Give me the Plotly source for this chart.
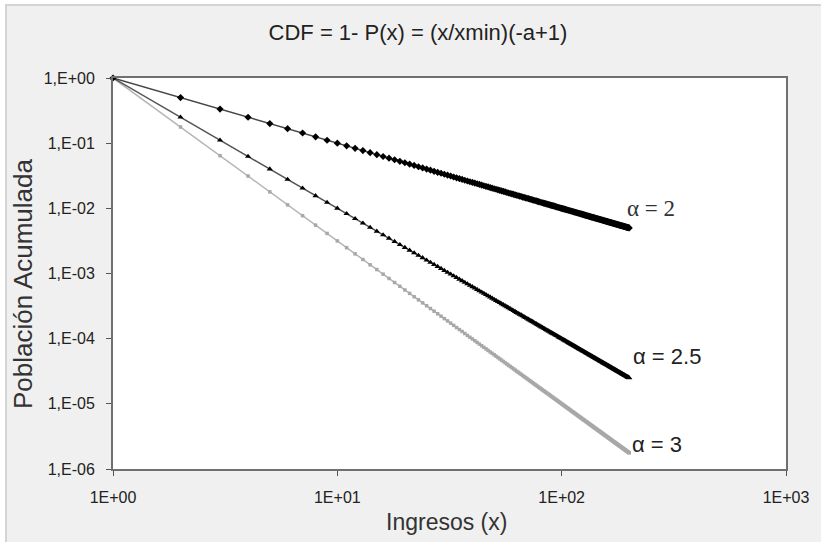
import plotly.graph_objects as go

# Ingresos (x): 1 .. 200
x_vals = [
    1, 2, 3, 4, 5, 6, 7, 8, 9, 10, 11, 12, 13, 14, 15, 16, 17, 18, 19, 20,
    21, 22, 23, 24, 25, 26, 27, 28, 29, 30, 31, 32, 33, 34, 35, 36, 37, 38, 39, 40,
    41, 42, 43, 44, 45, 46, 47, 48, 49, 50, 51, 52, 53, 54, 55, 56, 57, 58, 59, 60,
    61, 62, 63, 64, 65, 66, 67, 68, 69, 70, 71, 72, 73, 74, 75, 76, 77, 78, 79, 80,
    81, 82, 83, 84, 85, 86, 87, 88, 89, 90, 91, 92, 93, 94, 95, 96, 97, 98, 99, 100,
    101, 102, 103, 104, 105, 106, 107, 108, 109, 110, 111, 112, 113, 114, 115, 116, 117, 118, 119, 120,
    121, 122, 123, 124, 125, 126, 127, 128, 129, 130, 131, 132, 133, 134, 135, 136, 137, 138, 139, 140,
    141, 142, 143, 144, 145, 146, 147, 148, 149, 150, 151, 152, 153, 154, 155, 156, 157, 158, 159, 160,
    161, 162, 163, 164, 165, 166, 167, 168, 169, 170, 171, 172, 173, 174, 175, 176, 177, 178, 179, 180,
    181, 182, 183, 184, 185, 186, 187, 188, 189, 190, 191, 192, 193, 194, 195, 196, 197, 198, 199, 200,
]

# alpha = 2
cdf_a2 = [
    1, 0.5, 0.333, 0.25, 0.2, 0.167, 0.143, 0.125, 0.111, 0.1,
    0.0909, 0.0833, 0.0769, 0.0714, 0.0667, 0.0625, 0.0588, 0.0556, 0.0526, 0.05,
    0.0476, 0.0455, 0.0435, 0.0417, 0.04, 0.0385, 0.037, 0.0357, 0.0345, 0.0333,
    0.0323, 0.0313, 0.0303, 0.0294, 0.0286, 0.0278, 0.027, 0.0263, 0.0256, 0.025,
    0.0244, 0.0238, 0.0233, 0.0227, 0.0222, 0.0217, 0.0213, 0.0208, 0.0204, 0.02,
    0.0196, 0.0192, 0.0189, 0.0185, 0.0182, 0.0179, 0.0175, 0.0172, 0.0169, 0.0167,
    0.0164, 0.0161, 0.0159, 0.0156, 0.0154, 0.0152, 0.0149, 0.0147, 0.0145, 0.0143,
    0.0141, 0.0139, 0.0137, 0.0135, 0.0133, 0.0132, 0.013, 0.0128, 0.0127, 0.0125,
    0.0123, 0.0122, 0.012, 0.0119, 0.0118, 0.0116, 0.0115, 0.0114, 0.0112, 0.0111,
    0.011, 0.0109, 0.0108, 0.0106, 0.0105, 0.0104, 0.0103, 0.0102, 0.0101, 0.01,
    0.0099, 0.0098, 0.0097, 0.00962, 0.00952, 0.00943, 0.00935, 0.00926, 0.00917, 0.00909,
    0.00901, 0.00893, 0.00885, 0.00877, 0.0087, 0.00862, 0.00855, 0.00847, 0.0084, 0.00833,
    0.00826, 0.0082, 0.00813, 0.00806, 0.008, 0.00794, 0.00787, 0.00781, 0.00775, 0.00769,
    0.00763, 0.00758, 0.00752, 0.00746, 0.00741, 0.00735, 0.0073, 0.00725, 0.00719, 0.00714,
    0.00709, 0.00704, 0.00699, 0.00694, 0.0069, 0.00685, 0.0068, 0.00676, 0.00671, 0.00667,
    0.00662, 0.00658, 0.00654, 0.00649, 0.00645, 0.00641, 0.00637, 0.00633, 0.00629, 0.00625,
    0.00621, 0.00617, 0.00613, 0.0061, 0.00606, 0.00602, 0.00599, 0.00595, 0.00592, 0.00588,
    0.00585, 0.00581, 0.00578, 0.00575, 0.00571, 0.00568, 0.00565, 0.00562, 0.00559, 0.00556,
    0.00552, 0.00549, 0.00546, 0.00543, 0.00541, 0.00538, 0.00535, 0.00532, 0.00529, 0.00526,
    0.00524, 0.00521, 0.00518, 0.00515, 0.00513, 0.0051, 0.00508, 0.00505, 0.00503, 0.005,
]

# alpha = 2.5
cdf_a25 = [
    1, 0.25, 0.111, 0.0625, 0.04, 0.0278, 0.0204, 0.0156, 0.0123, 0.01,
    0.00826, 0.00694, 0.00592, 0.0051, 0.00444, 0.00391, 0.00346, 0.00309, 0.00277, 0.0025,
    0.00227, 0.00207, 0.00189, 0.00174, 0.0016, 0.00148, 0.00137, 0.00128, 0.00119, 0.00111,
    1.04e-3, 9.77e-4, 9.18e-4, 8.65e-4, 8.16e-4, 7.72e-4, 7.30e-4, 6.93e-4, 6.57e-4, 6.25e-4,
    5.95e-4, 5.67e-4, 5.41e-4, 5.17e-4, 4.94e-4, 4.73e-4, 4.53e-4, 4.34e-4, 4.16e-4, 4.0e-4,
    3.84e-4, 3.70e-4, 3.56e-4, 3.43e-4, 3.31e-4, 3.19e-4, 3.08e-4, 2.97e-4, 2.87e-4, 2.78e-4,
    2.69e-4, 2.60e-4, 2.52e-4, 2.44e-4, 2.37e-4, 2.30e-4, 2.23e-4, 2.16e-4, 2.10e-4, 2.04e-4,
    1.98e-4, 1.93e-4, 1.88e-4, 1.83e-4, 1.78e-4, 1.73e-4, 1.69e-4, 1.64e-4, 1.60e-4, 1.56e-4,
    1.52e-4, 1.49e-4, 1.45e-4, 1.42e-4, 1.38e-4, 1.35e-4, 1.32e-4, 1.29e-4, 1.26e-4, 1.23e-4,
    1.21e-4, 1.18e-4, 1.16e-4, 1.13e-4, 1.11e-4, 1.09e-4, 1.06e-4, 1.04e-4, 1.02e-4, 1.0e-4,
    9.80e-5, 9.61e-5, 9.43e-5, 9.25e-5, 9.07e-5, 8.90e-5, 8.73e-5, 8.57e-5, 8.42e-5, 8.26e-5,
    8.12e-5, 7.97e-5, 7.83e-5, 7.69e-5, 7.56e-5, 7.43e-5, 7.31e-5, 7.18e-5, 7.06e-5, 6.94e-5,
    6.83e-5, 6.72e-5, 6.61e-5, 6.50e-5, 6.40e-5, 6.30e-5, 6.20e-5, 6.10e-5, 6.01e-5, 5.92e-5,
    5.83e-5, 5.74e-5, 5.65e-5, 5.57e-5, 5.49e-5, 5.41e-5, 5.33e-5, 5.25e-5, 5.18e-5, 5.10e-5,
    5.03e-5, 4.96e-5, 4.89e-5, 4.82e-5, 4.76e-5, 4.69e-5, 4.63e-5, 4.57e-5, 4.50e-5, 4.44e-5,
    4.39e-5, 4.33e-5, 4.27e-5, 4.22e-5, 4.16e-5, 4.11e-5, 4.06e-5, 4.01e-5, 3.96e-5, 3.91e-5,
    3.86e-5, 3.81e-5, 3.76e-5, 3.72e-5, 3.67e-5, 3.63e-5, 3.59e-5, 3.54e-5, 3.50e-5, 3.46e-5,
    3.42e-5, 3.38e-5, 3.34e-5, 3.30e-5, 3.27e-5, 3.23e-5, 3.19e-5, 3.16e-5, 3.12e-5, 3.09e-5,
    3.05e-5, 3.02e-5, 2.99e-5, 2.95e-5, 2.92e-5, 2.89e-5, 2.86e-5, 2.83e-5, 2.80e-5, 2.77e-5,
    2.74e-5, 2.71e-5, 2.68e-5, 2.66e-5, 2.63e-5, 2.60e-5, 2.58e-5, 2.55e-5, 2.53e-5, 2.50e-5,
]

# alpha = 3
cdf_a3 = [
    1, 0.177, 0.0642, 0.0313, 0.0179, 0.0113, 0.00771, 0.00552, 0.00412, 0.00316,
    0.00249, 0.002, 0.00164, 0.00136, 0.00115, 9.77e-4, 8.39e-4, 7.27e-4, 6.36e-4, 5.59e-4,
    4.95e-4, 4.40e-4, 3.94e-4, 3.54e-4, 3.20e-4, 2.90e-4, 2.64e-4, 2.41e-4, 2.21e-4, 2.03e-4,
    1.87e-4, 1.73e-4, 1.60e-4, 1.48e-4, 1.38e-4, 1.29e-4, 1.20e-4, 1.12e-4, 1.05e-4, 9.88e-5,
    9.29e-5, 8.75e-5, 8.25e-5, 7.79e-5, 7.36e-5, 6.97e-5, 6.60e-5, 6.26e-5, 5.95e-5, 5.66e-5,
    5.38e-5, 5.13e-5, 4.89e-5, 4.67e-5, 4.46e-5, 4.26e-5, 4.08e-5, 3.90e-5, 3.74e-5, 3.59e-5,
    3.44e-5, 3.30e-5, 3.17e-5, 3.05e-5, 2.94e-5, 2.83e-5, 2.72e-5, 2.62e-5, 2.53e-5, 2.44e-5,
    2.35e-5, 2.27e-5, 2.20e-5, 2.12e-5, 2.05e-5, 1.99e-5, 1.92e-5, 1.86e-5, 1.80e-5, 1.75e-5,
    1.69e-5, 1.64e-5, 1.59e-5, 1.55e-5, 1.50e-5, 1.46e-5, 1.42e-5, 1.38e-5, 1.34e-5, 1.30e-5,
    1.27e-5, 1.23e-5, 1.20e-5, 1.17e-5, 1.14e-5, 1.11e-5, 1.08e-5, 1.05e-5, 1.03e-5, 1.0e-5,
    9.75e-6, 9.52e-6, 9.29e-6, 9.07e-6, 8.85e-6, 8.64e-6, 8.44e-6, 8.25e-6, 8.06e-6, 7.88e-6,
    7.70e-6, 7.53e-6, 7.37e-6, 7.21e-6, 7.05e-6, 6.90e-6, 6.75e-6, 6.61e-6, 6.47e-6, 6.34e-6,
    6.21e-6, 6.08e-6, 5.96e-6, 5.84e-6, 5.72e-6, 5.61e-6, 5.50e-6, 5.39e-6, 5.29e-6, 5.19e-6,
    5.09e-6, 5.00e-6, 4.90e-6, 4.81e-6, 4.72e-6, 4.64e-6, 4.55e-6, 4.47e-6, 4.39e-6, 4.31e-6,
    4.24e-6, 4.16e-6, 4.09e-6, 4.02e-6, 3.95e-6, 3.88e-6, 3.82e-6, 3.75e-6, 3.69e-6, 3.63e-6,
    3.57e-6, 3.51e-6, 3.45e-6, 3.40e-6, 3.34e-6, 3.29e-6, 3.24e-6, 3.19e-6, 3.14e-6, 3.09e-6,
    3.04e-6, 2.99e-6, 2.95e-6, 2.90e-6, 2.86e-6, 2.82e-6, 2.77e-6, 2.73e-6, 2.69e-6, 2.65e-6,
    2.62e-6, 2.58e-6, 2.54e-6, 2.50e-6, 2.47e-6, 2.43e-6, 2.40e-6, 2.37e-6, 2.33e-6, 2.30e-6,
    2.27e-6, 2.24e-6, 2.21e-6, 2.18e-6, 2.15e-6, 2.12e-6, 2.09e-6, 2.06e-6, 2.04e-6, 2.01e-6,
    1.98e-6, 1.96e-6, 1.93e-6, 1.91e-6, 1.88e-6, 1.86e-6, 1.84e-6, 1.81e-6, 1.79e-6, 1.77e-6,
]

x_tickvals = [1, 10, 100, 1000]
x_ticktext = ["1E+00", "1E+01", "1E+02", "1E+03"]
y_tickvals = [1, 1e-1, 1e-2, 1e-3, 1e-4, 1e-5, 1e-6]
y_ticktext = ["1,E+00", "1,E-01", "1,E-02", "1,E-03", "1,E-04", "1,E-05", "1,E-06"]

title_text = "CDF = 1- P(x) = (x/xmin)(-a+1)"
x_title = "Ingresos (x)"
y_title = "Población Acumulada"
labels = ["α = 2", "α = 2.5", "α = 3"]

FONT = "Liberation Sans, Arial, sans-serif"
SERIF = "Liberation Serif, DejaVu Serif, serif"

fig = go.Figure()
fig.add_trace(go.Scatter(
    x=x_vals, y=cdf_a3, mode="lines+markers", name=labels[2],
    line=dict(color="#b4b4b4", width=1.5),
    marker=dict(symbol="square", size=3.5, color="#a8a8a8"),
    cliponaxis=False,
))
fig.add_trace(go.Scatter(
    x=x_vals, y=cdf_a25, mode="lines+markers", name=labels[1],
    line=dict(color="#555555", width=1.5),
    marker=dict(symbol="triangle-up", size=5.5, color="#000000"),
    cliponaxis=False,
))
fig.add_trace(go.Scatter(
    x=x_vals, y=cdf_a2, mode="lines+markers", name=labels[0],
    line=dict(color="#444444", width=1.5),
    marker=dict(symbol="diamond", size=5.5, color="#000000"),
    cliponaxis=False,
))

# series labels
fig.add_annotation(x=2.281, y=-1.995, xref="x", yref="y", text=labels[0],
                   showarrow=False, xanchor="left", yanchor="middle",
                   font=dict(family=SERIF, size=23, color="#333333"))
fig.add_annotation(x=2.307, y=-4.28, xref="x", yref="y", text=labels[1],
                   showarrow=False, xanchor="left", yanchor="middle",
                   font=dict(family=FONT, size=22, color="#222222"))
fig.add_annotation(x=2.303, y=-5.62, xref="x", yref="y", text=labels[2],
                   showarrow=False, xanchor="left", yanchor="middle",
                   font=dict(family=FONT, size=22, color="#222222"))

# axis titles as annotations for precise placement
fig.add_annotation(x=0.496, y=-0.136, xref="paper", yref="paper", text=x_title,
                   showarrow=False, xanchor="center", yanchor="middle",
                   font=dict(family=FONT, size=23, color="#333333"))
fig.add_annotation(x=-0.134, y=0.475, xref="paper", yref="paper", text=y_title,
                   showarrow=False, textangle=-90, xanchor="center", yanchor="middle",
                   font=dict(family=FONT, size=26, color="#333333"))

# chart-area background (light grey, with thin border) and white plot area on top
fig.add_shape(type="rect", xref="paper", yref="paper",
              x0=-0.159, x1=1.06, y0=-0.20, y1=1.187,
              fillcolor="#f0f0f0", line=dict(color="#d4d4d4", width=2), layer="below")
fig.add_shape(type="rect", xref="paper", yref="paper",
              x0=0, x1=1, y0=0, y1=1,
              fillcolor="#ffffff", line=dict(width=0), layer="below")

fig.update_layout(
    width=821, height=542,
    margin=dict(l=113, r=24, t=78, b=73),
    paper_bgcolor="#ffffff",
    plot_bgcolor="#ffffff",
    showlegend=False,
    font=dict(family=FONT, color="#222222"),
    title=dict(text=title_text, x=418 / 821, xref="container", xanchor="center",
               y=1 - 32 / 542, yref="container", yanchor="middle",
               font=dict(family=FONT, size=22, color="#222222")),
)
fig.update_xaxes(
    type="log", range=[0, 3],
    tickvals=x_tickvals, ticktext=x_ticktext,
    ticks="outside", ticklen=5, tickcolor="#555555", tickwidth=1,
    showgrid=False, zeroline=False,
    showline=True, linecolor="#707070", linewidth=2, mirror=True,
    tickfont=dict(family=FONT, size=16, color="#222222"),
    ticklabelstandoff=8,
)
fig.update_yaxes(
    type="log", range=[-6, 0],
    tickvals=y_tickvals, ticktext=y_ticktext,
    ticks="outside", ticklen=5, tickcolor="#555555", tickwidth=1,
    showgrid=False, zeroline=False,
    showline=True, linecolor="#707070", linewidth=2, mirror=True,
    tickfont=dict(family=FONT, size=16, color="#222222"),
    ticklabelstandoff=8,
)

fig.write_html("out.html", config={"displayModeBar": False},
               post_script="document.body.style.margin='0';")
